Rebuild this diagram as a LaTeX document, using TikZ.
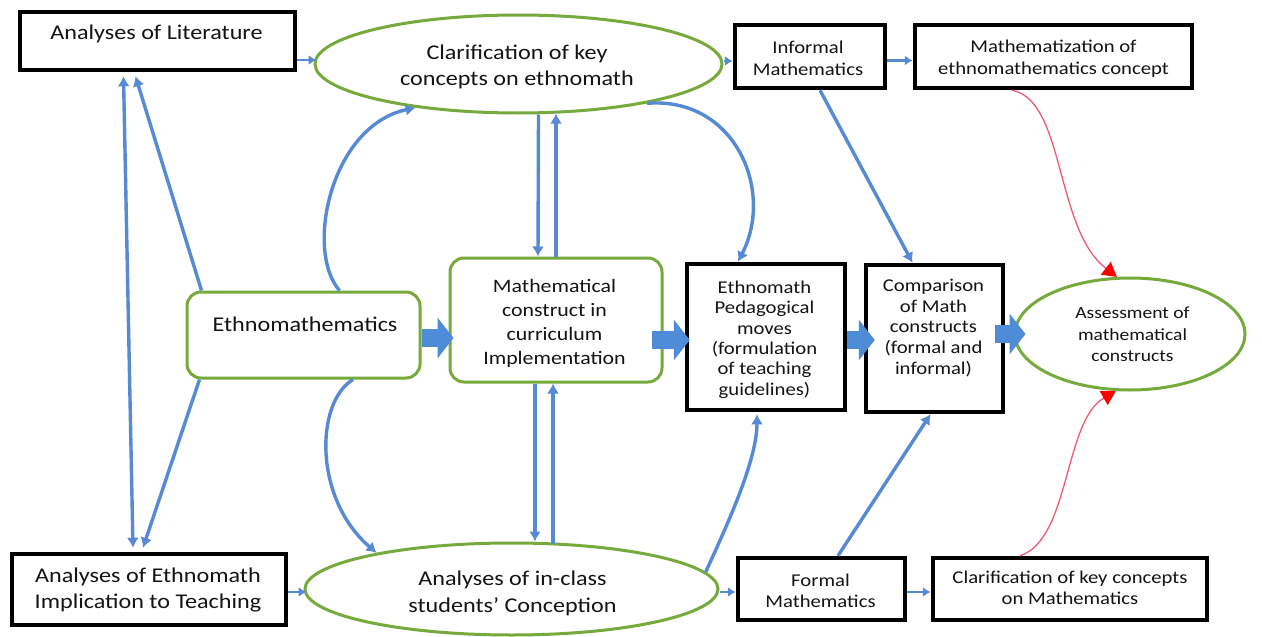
\documentclass[tikz,border=0pt]{standalone}
\usepackage{fontspec}
\setmainfont{Carlito}[FakeStretch=1.15]
\usetikzlibrary{arrows.meta,shapes.geometric,calc}
\definecolor{linkblue}{RGB}{86,138,212}
\definecolor{fatblue}{RGB}{79,140,215}
\definecolor{boxgreen}{RGB}{118,170,60}
\definecolor{linkred}{RGB}{240,90,120}
\definecolor{tipred}{RGB}{255,0,0}
\newcommand\setfs[2]{\fontsize{#1pt}{#2pt}\selectfont}

\begin{document}
\begin{tikzpicture}[x=1pt,y=-1pt,
  blackbox/.style={draw=black,line width=4.5pt,fill=white,rectangle,inner sep=0pt},
  greenround/.style={draw=boxgreen,line width=3pt,fill=white,rounded corners=14pt,inner sep=0pt},
  greenoval/.style={draw=boxgreen,line width=3pt,fill=white,ellipse,inner sep=0pt},
  txt/.style={align=center,inner sep=0pt,text=black!92},
  conn/.style={draw=linkblue,line width=3.4pt,-{Latex[length=10pt,width=12pt]}},
  twoway/.style={draw=linkblue,line width=3.4pt,{Latex[length=10pt,width=12pt]}-{Latex[length=10pt,width=12pt]}},
  shortlink/.style={draw=linkblue,line width=2.6pt,-{Latex[length=8pt,width=10pt]}},
  fat/.style={draw=fatblue,line width=18pt,-{Triangle[length=16pt,width=40pt]}},
  redlink/.style={draw=linkred,line width=1.3pt,-{Triangle[length=14pt,width=16pt,color=tipred,fill=tipred]}},
]
\fill[white] (0,0) rectangle (1262,637);
\useasboundingbox (0,0) rectangle (1262,637);

% boxes and ovals
\node[blackbox,minimum width=275pt,minimum height=58pt] (lit) at (157.5,41) {};
\node[greenoval,minimum width=407pt,minimum height=98pt] (clar) at (518.5,64) {};
\node[blackbox,minimum width=150pt,minimum height=63pt] (inf) at (810,56.5) {};
\node[blackbox,minimum width=277pt,minimum height=63pt] (mz) at (1053.5,56.5) {};
\node[greenround,minimum width=233pt,minimum height=86pt] (eth) at (303.5,335) {};
\node[greenround,minimum width=212pt,minimum height=124pt] (mc) at (556,320) {};
\node[blackbox,minimum width=158pt,minimum height=146pt] (ped) at (766,337) {};
\node[blackbox,minimum width=137pt,minimum height=147pt] (cmp) at (934.5,338.5) {};
\node[greenoval,minimum width=230pt,minimum height=112pt] (ass) at (1130,334) {};
\node[blackbox,minimum width=274pt,minimum height=71pt] (imp) at (149,589.5) {};
\node[greenoval,minimum width=413pt,minimum height=92pt] (cls) at (511.5,589) {};
\node[blackbox,minimum width=167pt,minimum height=62pt] (fml) at (821.5,589) {};
\node[blackbox,minimum width=274pt,minimum height=62pt] (clm) at (1070,589) {};

% texts
\node[txt,font=\setfs{21}{27}] (lit-t) at (156.5,34) {Analyses of Literature};
\node[txt,font=\setfs{21}{26}] (clar-t) at (517,67) {Clarification of key\\concepts on ethnomath};
\node[txt,font=\setfs{18}{21.5}] (inf-t) at (808,58.5) {Informal\\Mathematics};
\node[txt,font=\setfs{18}{21.5}] (mz-t) at (1053.5,58.5) {Mathematization of\\ethnomathematics concept};
\node[txt,font=\setfs{21}{26}] (eth-t) at (305,324) {Ethnomathematics};
\node[txt,font=\setfs{19}{24}] (mc-t) at (554.5,323) {Mathematical\\construct in\\curriculum\\Implementation};
\node[txt,font=\setfs{18}{20.4}] (ped-t) at (764.5,339.5) {Ethnomath\\Pedagogical\\moves\\(formulation\\of teaching\\guidelines)};
\node[txt,font=\setfs{18}{20.8}] (cmp-t) at (933.5,328) {Comparison\\of Math\\constructs\\(formal and\\informal)};
\node[txt,font=\setfs{17}{21.3}] (ass-t) at (1132.5,334.5) {Assessment of\\mathematical\\constructs};
\node[txt,font=\setfs{21}{26.5}] (imp-t) at (148,590) {Analyses of Ethnomath\\Implication to Teaching};
\node[txt,font=\setfs{21}{27}] (cls-t) at (512.5,593) {Analyses of in-class\\students’ Conception};
\node[txt,font=\setfs{18}{21}] (fml-t) at (820.5,591) {Formal\\Mathematics};
\node[txt,font=\setfs{18}{21}] (clm-t) at (1070,588) {Clarification of key concepts\\on Mathematics};

% short horizontal links
\draw[shortlink] ($(lit.east)+(0,19)$) -- ($(clar.west)+(3,-4)$);
\draw[shortlink] ($(clar.east)+(0,-3)$) -- ($(inf.west)+(0,4.5)$);
\draw[shortlink] ($(inf.east)+(0,4)$) -- ($(mz.west)+(0,4)$);
\draw[shortlink] ($(imp.east)+(0,2.5)$) -- ($(cls.west)+(3,3)$);
\draw[shortlink] ($(cls.east)+(0,3)$) -- ($(fml.west)+(0,3)$);
\draw[shortlink] ($(fml.east)+(0,3)$) -- ($(clm.west)+(0,3)$);

% left column
\draw[twoway] ($(lit.south)+(-34,4)$) -- ($(imp.north)+(-16,-4)$);
\draw[conn] ($(eth.north west)+(16,0)$) -- ($(lit.south)+(-22,4)$);
\draw[conn] ($(eth.south west)+(14,0)$) -- ($(imp.north)+(-6,-4)$);

% curved links
\draw[conn] ($(eth.north)+(36,0)$) .. controls +(-35,-40) and +(-85,18) .. (clar.203.6);
\draw[conn] ($(eth.south)+(49.5,0)$) .. controls +(-38,23) and +(-63,-54) .. (cls.165.3);
\draw[conn] (clar.343.7) .. controls +(87,-7) and +(37,-72) .. ($(ped.north)+(-28,0)$);
\draw[conn] (cls.5.7) .. controls +(18,-40) and +(0,48) .. ($(ped.south)+(-9,2)$);

% vertical pairs
\draw[conn] ($(clar.south)+(20,0)$) -- ($(mc.north)+(-18,0)$);
\draw[conn] (mc.north) -- ($(clar.south)+(37.5,-1)$);
\draw[conn] ($(mc.south)+(-21,0)$) -- ($(cls.north)+(23.5,0)$);
\draw[conn] ($(cls.north)+(41.5,2)$) -- ($(mc.south)+(-3,0)$);

% diagonals into the comparison box
\draw[conn] ($(inf.south)+(10,0)$) -- ($(cmp.north)+(-22,0)$);
\draw[conn] ($(fml.north)+(16.5,0)$) -- ($(cmp.south)+(-4,0)$);

% main flow
\draw[fat] ($(eth.east)+(0,3)$) -- ($(mc.west |- eth.east)+(5,3)$);
\draw[fat] ($(mc.east)+(-12,20)$) -- ($(ped.west)+(5,3)$);
\draw[fat] ($(ped.east)+(0,3)$) -- ($(cmp.west)+(11,1.5)$);
\draw[fat] ($(cmp.east)+(-10,-4.5)$) -- ($(ass.west)+(12,0)$);

% assessment inputs
\draw[redlink] ($(mz.south)+(-41.5,0)$) .. controls +(53,10) and +(-62,-48) .. (ass.103.2);
\draw[redlink] ($(clm.north)+(-50,0)$) .. controls +(50,-16) and +(-52,30) .. (ass.256.8);
\end{tikzpicture}
\end{document}
